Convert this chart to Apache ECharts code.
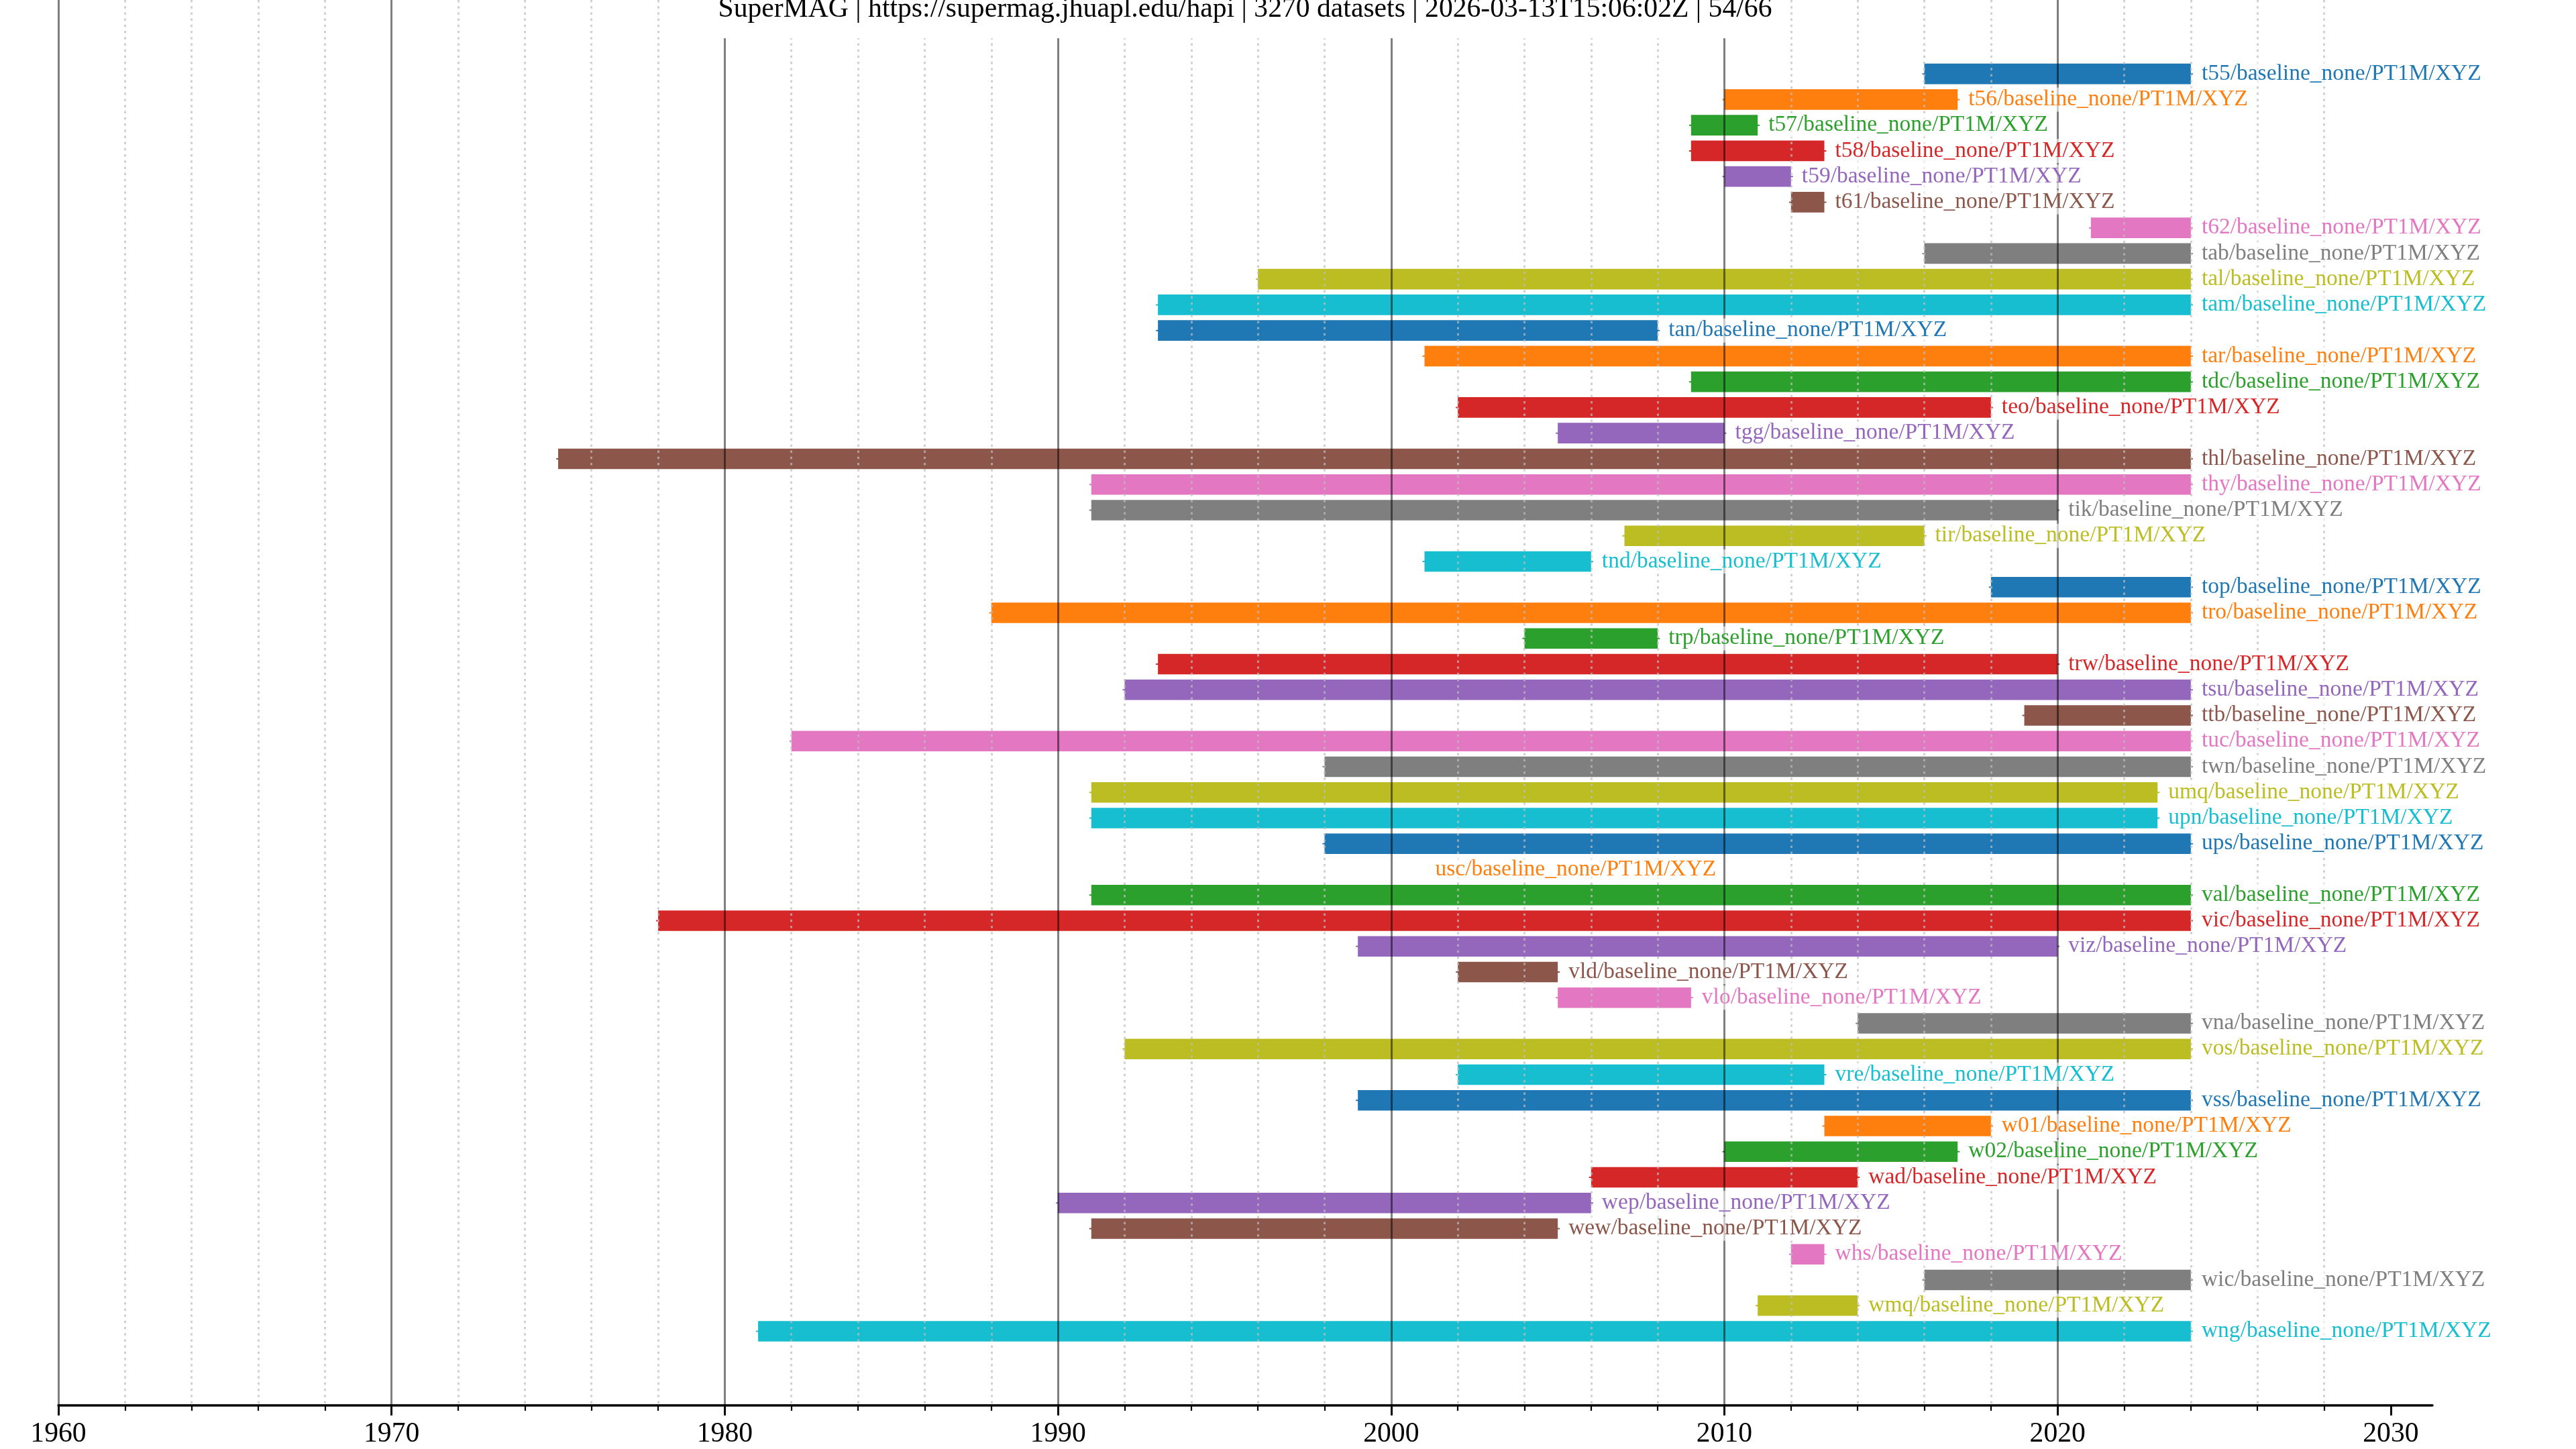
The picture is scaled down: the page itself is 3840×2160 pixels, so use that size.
<!DOCTYPE html>
<html>
<head>
	<meta charset="utf-8">
	<title>SuperMAG datasets</title>
	<script type="text/javascript" src="https://cdn.jsdelivr.net/npm/echarts@6/dist/echarts.min.js"></script>
	<style>
		body { margin: 0; background: #fff; }
	</style>
</head>
<body>
	<div id="mychart" style="width: 3840px;height:2160px;"></div>

	<script type="text/javascript">
		// station ids, top to bottom
		var names = ['t55','t56','t57','t58','t59','t61','t62','tab','tal','tam',
		             'tan','tar','tdc','teo','tgg','thl','thy','tik','tir','tnd',
		             'top','tro','trp','trw','tsu','ttb','tuc','twn','umq','upn',
		             'ups','usc','val','vic','viz','vld','vlo','vna','vos','vre',
		             'vss','w01','w02','wad','wep','wew','whs','wic','wmq','wng'];
		var starts = [2016,2010,2009,2009,2010,2012,2021,2016,1996,1993,
		              1993,2001,2009,2002,2005,1975,1991,1991,2007,2001,
		              2018,1988,2004,1993,1992,2019,1982,1998,1991,1991,
		              1998,2001,1991,1978,1999,2002,2005,2014,1992,2002,
		              1999,2013,2010,2006,1990,1991,2012,2016,2011,1981];
		var ends = [2024,2017,2011,2013,2012,2013,2024,2024,2024,2024,
		            2008,2024,2024,2018,2010,2024,2024,2020,2016,2006,
		            2024,2024,2008,2020,2024,2024,2024,2024,2023,2023,
		            2024,2001,2024,2024,2020,2005,2009,2024,2024,2013,
		            2024,2018,2017,2014,2006,2005,2013,2024,2014,2024];
		var suffix = '/baseline_none/PT1M/XYZ';
		var yearTicks = [1960, 1970, 1980, 1990, 2000, 2010, 2020, 2030];
		var titleText = 'SuperMAG | https://supermag.jhuapl.edu/hapi | 3270 datasets | 2026-03-13T15:06:02Z | 54/66';

		var colors = ['#1f77b4','#ff7f0e','#2ca02c','#d62728','#9467bd',
		              '#8c564b','#e377c2','#7f7f7f','#bcbd22','#17becf'];
		var serif = '"Liberation Serif", "DejaVu Serif", serif';

		var rows = [];
		for (var i = 0; i < names.length; i++) {
			rows.push([i, starts[i], ends[i], names[i] + suffix]);
		}

		var mychart = echarts.init(document.getElementById('mychart'));
		var option = {
			animation: false,
			backgroundColor: '#fff',
			title: {
				text: titleText,
				left: 1842,
				top: -7,
				textAlign: 'center',
				backgroundColor: '#fff',
				padding: [0, 14, 22, 14],
				textStyle: {
					fontFamily: serif,
					fontSize: 41.67,
					fontWeight: 'normal',
					lineHeight: 42,
					color: '#000'
				}
			},
			grid: {
				left: 87,
				right: 214,
				top: 0,
				bottom: 65,
				containLabel: false
			},
			xAxis: {
				type: 'value',
				min: 1960,
				max: 2031.25,
				interval: 10,
				z: 3,
				axisLine: { onZero: false, lineStyle: { color: '#000', width: 3.5 } },
				axisTick: {
					customValues: yearTicks,
					length: 15,
					lineStyle: { color: '#000', width: 3 }
				},
				minorTick: {
					show: true,
					splitNumber: 5,
					length: 8,
					lineStyle: { color: '#000', width: 2.2 }
				},
				axisLabel: {
					customValues: yearTicks,
					formatter: function (v) { return String(v); },
					margin: 22,
					fontFamily: serif,
					fontSize: 41.67,
					color: '#000'
				},
				splitLine: {
					show: true,
					showMaxLine: false,
					lineStyle: { color: 'rgba(0,0,0,0.5)', width: 3 }
				},
				minorSplitLine: {
					show: true,
					lineStyle: { color: 'rgba(190,190,190,0.7)', width: 3, type: [3.5, 5.7] }
				}
			},
			yAxis: {
				type: 'value',
				show: false,
				inverse: true,
				min: -2.88,
				max: 51.89
			},
			series: [
				{
					type: 'custom',
					name: 'spans',
					z: 2,
					encode: { x: [1, 2], y: 0 },
					data: rows,
					renderItem: function (params, api) {
						var idx = api.value(0);
						var p0 = api.coord([api.value(1), idx]);
						var p1 = api.coord([api.value(2), idx]);
						var h = api.size([0, 1])[1] * 0.8;
						var c = colors[idx % 10];
						if (p1[0] - p0[0] < 0.5) {
							return { type: 'group', children: [] };
						}
						return {
							type: 'group',
							children: [
								{
									type: 'line',
									shape: { x1: p0[0] - 3, y1: p0[1], x2: p1[0] + 3, y2: p1[1] },
									style: { stroke: c, lineWidth: 2 }
								},
								{
									type: 'rect',
									shape: { x: p0[0], y: p0[1] - h / 2, width: p1[0] - p0[0], height: h },
									style: { fill: c }
								}
							]
						};
					}
				},
				{
					type: 'custom',
					name: 'labels',
					z: 4,
					encode: { x: 2, y: 0 },
					data: rows,
					renderItem: function (params, api) {
						var idx = api.value(0);
						var p1 = api.coord([api.value(2), idx]);
						return {
							type: 'text',
							x: p1[0] + 14,
							y: p1[1],
							style: {
								text: rows[params.dataIndex][3],
								fill: colors[idx % 10],
								font: '33.5px ' + serif,
								verticalAlign: 'middle',
								align: 'left',
								backgroundColor: 'rgba(255,255,255,0.6)',
								padding: [1, 2]
							}
						};
					}
				}
			]
		};

		mychart.setOption(option);
	</script>
</body>
</html>
